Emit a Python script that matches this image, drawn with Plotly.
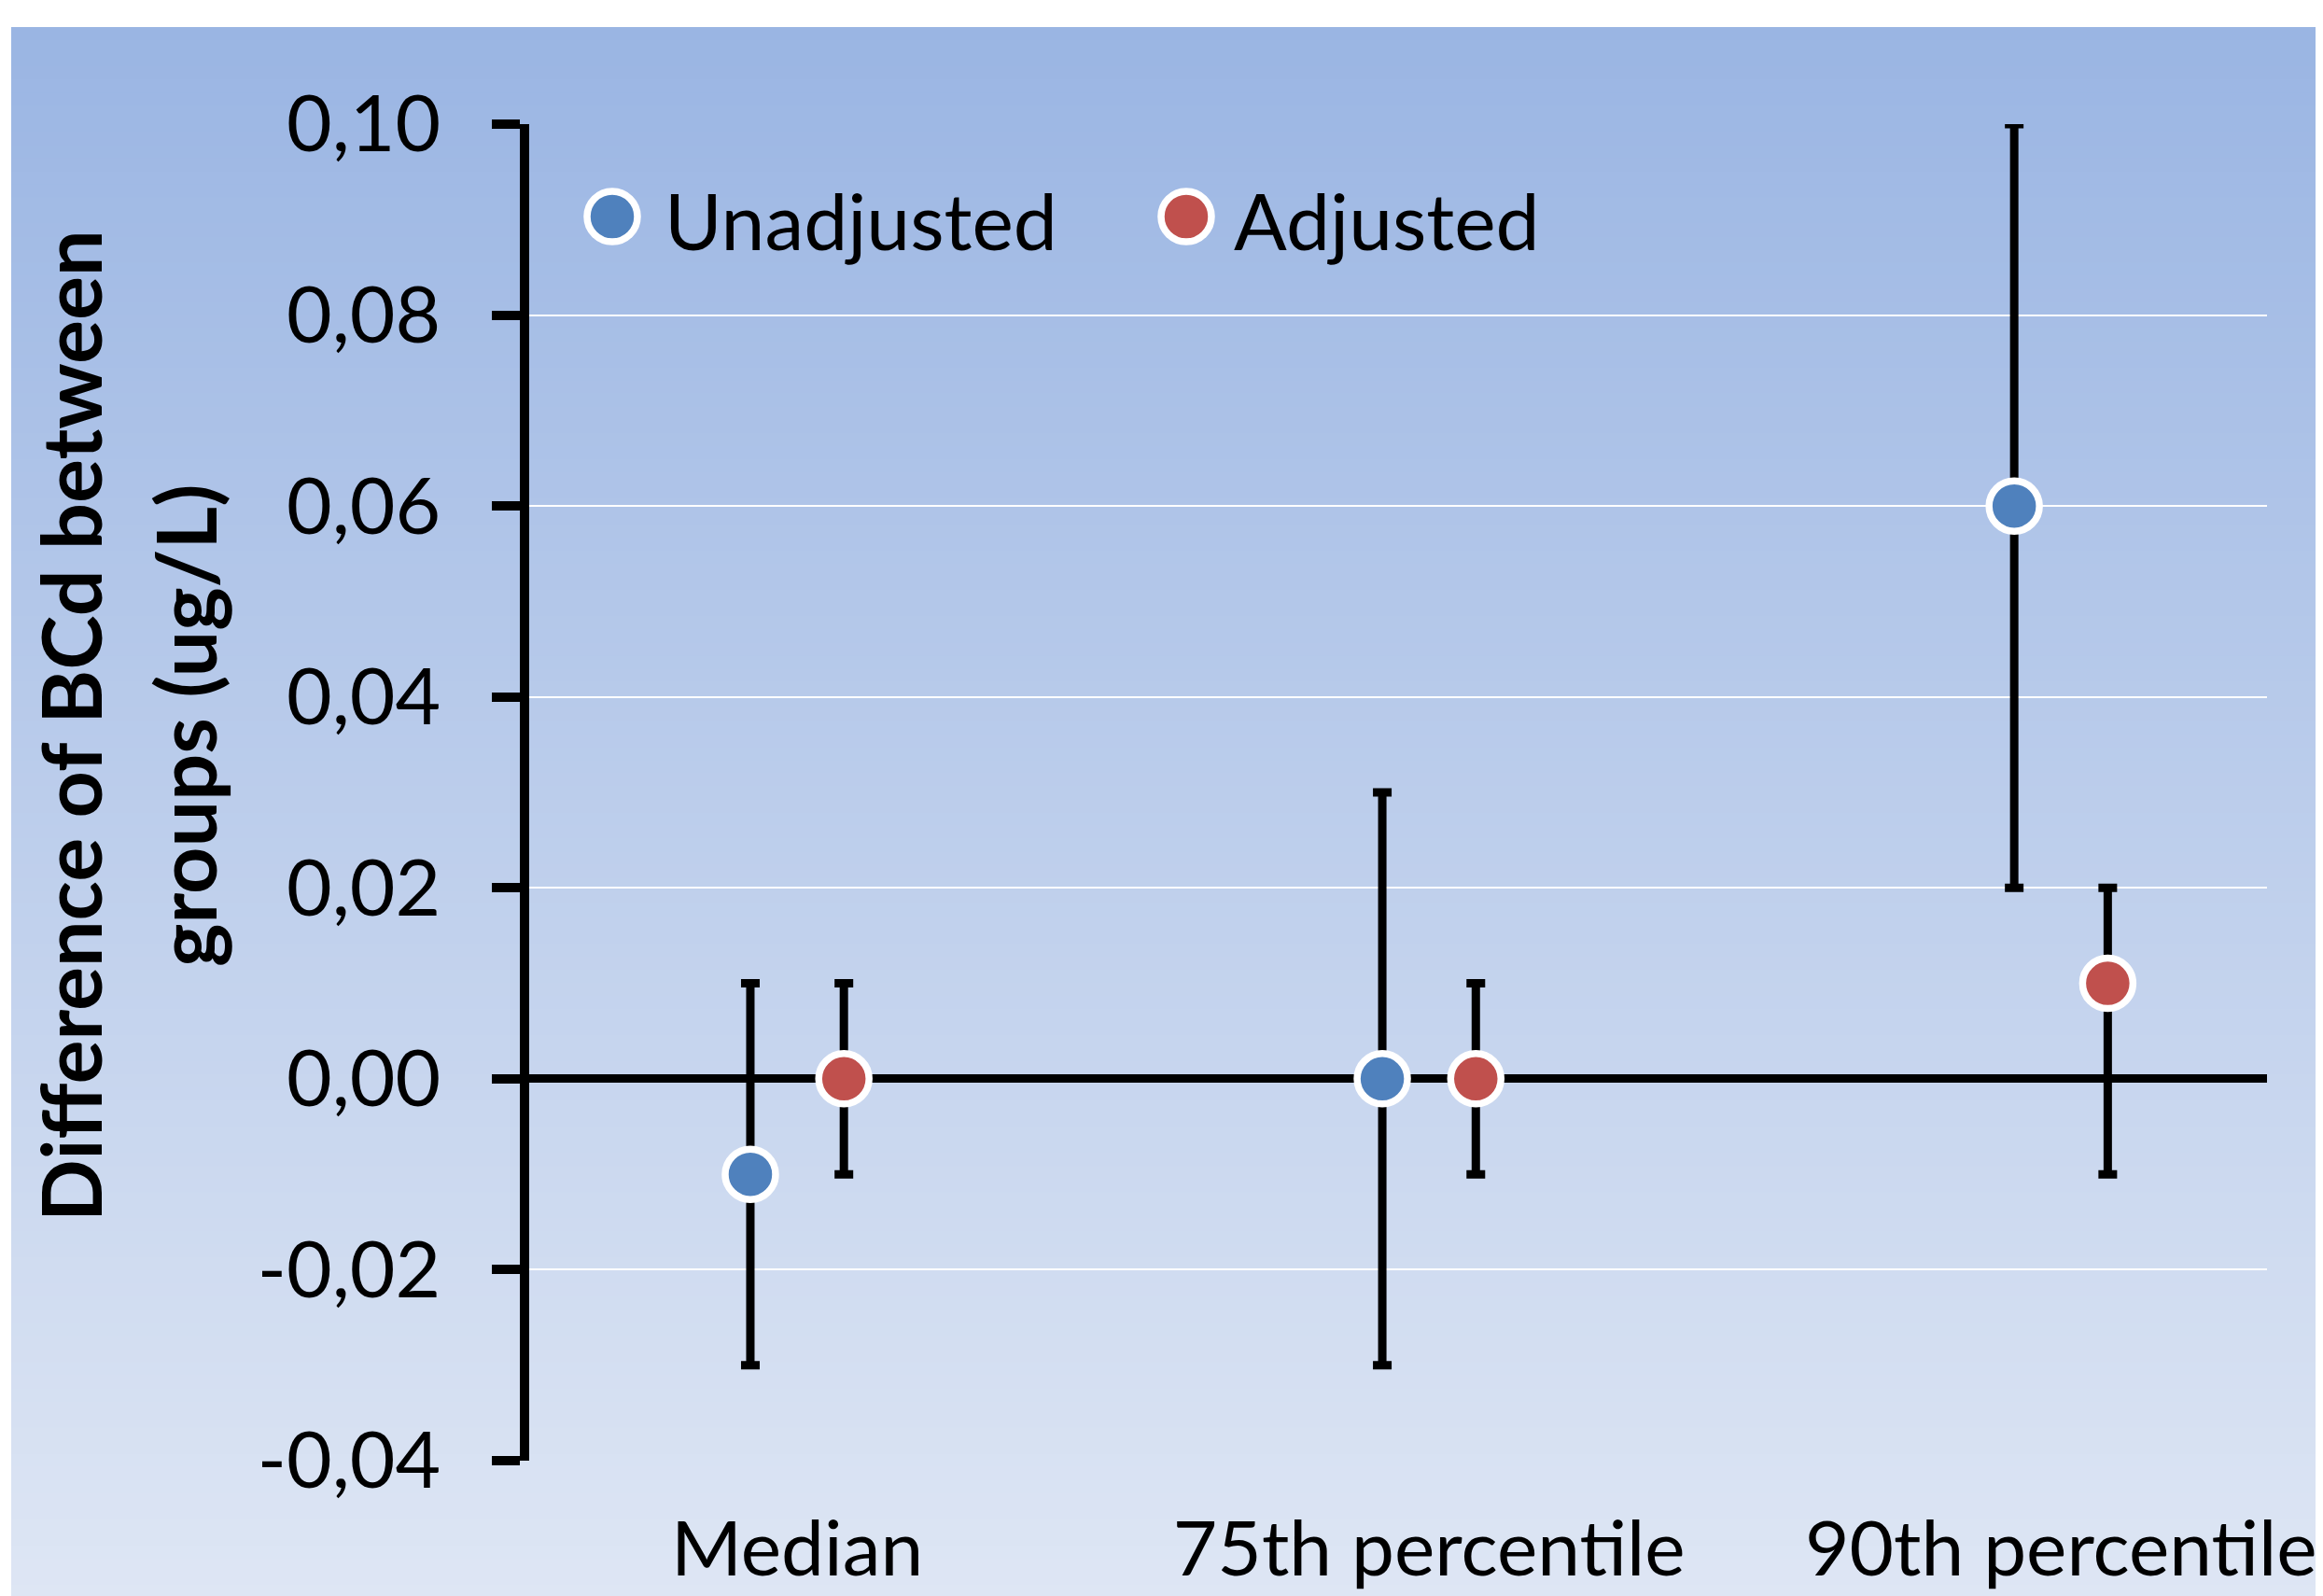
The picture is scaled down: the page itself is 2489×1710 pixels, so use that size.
import plotly.graph_objects as go

# ---- data ----
categories = ["Median", "75th percentile", "90th percentile"]
series_names = ["Unadjusted", "Adjusted"]
unadj_val = [-0.01, 0.00, 0.06]
unadj_low = [-0.03, -0.03, 0.02]
unadj_high = [0.01, 0.03, 0.10]
adj_val = [0.00, 0.00, 0.01]
adj_low = [-0.01, -0.01, -0.01]
adj_high = [0.01, 0.01, 0.02]
ytick_vals = [-0.04, -0.02, 0.00, 0.02, 0.04, 0.06, 0.08, 0.10]
ytick_text = [("%.2f" % v).replace(".", ",") for v in ytick_vals]

BLUE = "#4F81BD"
RED = "#C0504D"
FONT = "Lato"

# page is rendered with the default 8px body margin -> compensate
OFF = 8
W, H = 2489 - OFF, 1710 - OFF
L, R, T, B = 559, 60, 125, 145
PW, PH = W - L - R, H - T - B


def px_x(p):  # page pixel -> paper x
    return (p - OFF - L) / PW


def px_y(p):  # page pixel -> paper y
    return (H - B - (p - OFF)) / PH


offset = 0.074
xs = list(range(len(categories)))

fig = go.Figure()
for name, vals, lo, hi, col, off in [
    (series_names[0], unadj_val, unadj_low, unadj_high, BLUE, -offset),
    (series_names[1], adj_val, adj_low, adj_high, RED, offset),
]:
    fig.add_trace(go.Scatter(
        x=[i + off for i in xs], y=vals, mode="markers", name=name,
        cliponaxis=False, showlegend=False,
        marker=dict(color=col, size=54, line=dict(color="white", width=7.5)),
        error_y=dict(type="data", symmetric=False,
                     array=[h - v for h, v in zip(hi, vals)],
                     arrayminus=[v - l for v, l in zip(vals, lo)],
                     color="black", thickness=9, width=10),
    ))

# background gradient (decoration)
shapes = []
top_px, bot_px = 29, 1712
c0 = (154, 181, 227)
c1 = (222, 230, 244)
N = 120
for k in range(N):
    f = (k + 0.5) / N
    col = tuple(round(a + (b - a) * f) for a, b in zip(c0, c1))
    y0p = top_px + (bot_px - top_px) * k / N
    y1p = top_px + (bot_px - top_px) * (k + 1) / N + 1
    shapes.append(dict(type="rect", xref="paper", yref="paper", layer="below",
                       x0=px_x(12), x1=px_x(2495), y0=px_y(y1p), y1=px_y(y0p),
                       line=dict(width=0), fillcolor="rgb(%d,%d,%d)" % col))

# custom legend
legend_y = px_y(232)
for cx, col in [(656, BLUE), (1271, RED)]:
    shapes.append(dict(type="circle", xref="paper", yref="paper",
                       xsizemode="pixel", ysizemode="pixel",
                       xanchor=px_x(cx), yanchor=legend_y,
                       x0=-27, x1=27, y0=-27, y1=27,
                       fillcolor=col, line=dict(color="white", width=7.5)))

annotations = []
for tx, txt in [(710, series_names[0]), (1320, series_names[1])]:
    annotations.append(dict(text=txt, xref="paper", yref="paper", x=px_x(tx), y=px_y(236),
                            xanchor="left", yanchor="middle", showarrow=False,
                            font=dict(family=FONT, size=84, color="black")))

# y-axis title as two rotated lines
for cx, txt in [(75, "Difference of BCd between"), (198, "groups (ug/L)")]:
    annotations.append(dict(text="<b>%s</b>" % txt, xref="paper", yref="paper",
                            x=px_x(cx), y=px_y(778), xanchor="center", yanchor="middle",
                            textangle=-90, showarrow=False,
                            font=dict(family=FONT, size=88, color="black")))

fig.update_layout(
    width=W, height=H,
    margin=dict(l=L, r=R, t=T, b=B, autoexpand=False),
    paper_bgcolor="white",
    plot_bgcolor="rgba(0,0,0,0)",
    shapes=shapes,
    annotations=annotations,
    showlegend=False,
    font=dict(family=FONT, size=84, color="black"),
)
fig.update_xaxes(
    range=[-0.424, 2.326], tickvals=xs, ticktext=categories,
    showgrid=False, zeroline=False, showline=False, ticks="",
    tickfont=dict(family=FONT, size=82, color="black"),
    ticklabelstandoff=40, ticklabeloverflow="allow", automargin=False,
)
fig.update_yaxes(
    range=[-0.04, 0.10], tickvals=ytick_vals, ticktext=ytick_text,
    showgrid=True, gridcolor="white", gridwidth=2,
    zeroline=True, zerolinecolor="black", zerolinewidth=9,
    showline=True, linecolor="black", linewidth=10,
    ticks="outside", ticklen=30, tickwidth=10, tickcolor="black",
    tickfont=dict(family=FONT, size=84, color="black"),
    ticklabelstandoff=38, automargin=False,
)

fig.write_html("out.html")
